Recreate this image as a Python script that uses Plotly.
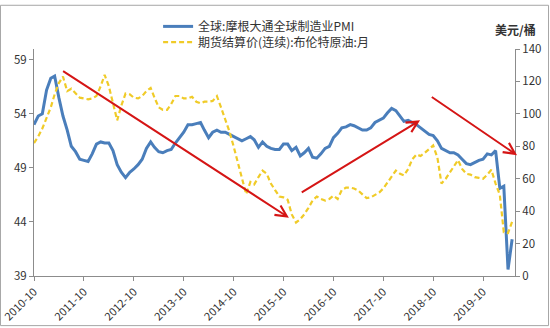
import plotly.graph_objects as go
import pandas as pd

months = pd.date_range("2010-10-01", "2020-05-01", freq="MS")

pmi = [
    53.0, 53.8, 54.0,
    56.2, 57.3, 57.5, 55.5, 53.8, 52.5, 51.0, 50.5, 49.8, 49.7, 49.6, 50.3,
    51.2, 51.4, 51.3, 51.3, 50.6, 49.3, 48.6, 48.1, 48.6, 48.9, 49.3, 49.8,
    50.8, 51.4, 50.9, 50.5, 50.4, 50.6, 50.7, 51.3, 51.8, 52.3, 53.0, 53.0,
    53.1, 53.2, 52.5, 51.8, 52.3, 52.5, 52.3, 52.3, 52.1, 51.9, 51.7, 51.5,
    51.7, 51.9, 51.6, 50.9, 51.4, 51.0, 50.8, 50.7, 50.7, 51.2, 51.2, 50.6,
    50.9, 50.1, 50.4, 50.8, 50.0, 49.9, 50.3, 50.8, 51.0, 51.8, 52.2, 52.7,
    52.8, 53.0, 52.9, 52.7, 52.5, 52.5, 52.7, 53.2, 53.4, 53.6, 54.1, 54.5,
    54.3, 53.8, 53.3, 53.4, 53.2, 53.0, 52.7, 52.4, 52.1, 52.0, 51.5, 50.8,
    50.6, 50.4, 50.4, 50.2, 49.8, 49.4, 49.3, 49.5, 49.7, 49.8, 50.3, 50.2,
    50.6, 47.1, 47.3, 39.6, 42.4,
]

brent = [
    82, 86, 91,
    97, 104, 112, 119, 123, 114, 115.5, 113, 110, 109.5, 109, 109.5,
    111, 117, 124, 117, 106, 96, 105, 112.5, 112, 110, 109.5, 111,
    114, 116, 110, 104, 102.5, 102.5, 106, 111, 111, 109.5, 109.5, 110.5,
    107.5, 106.5, 107.5, 107.5, 108, 111, 104, 97, 89, 80, 70, 59,
    50.5, 58, 56.5, 61, 65, 63, 57, 53, 49, 48.5, 47, 38,
    33, 35, 38, 42, 46.5, 49, 47.5, 46.5, 47.5, 49.5, 47.5, 53,
    54.5, 54.5, 54, 52.7, 50.5, 48, 48.5, 50, 51.5, 54, 57.5, 61,
    65, 63, 62, 66, 72, 75, 74, 76, 78.5, 80.5, 73, 57,
    60, 64, 67.5, 71.5, 66, 63, 62.5, 61, 60.5, 60, 62.5, 65.5,
    57, 50, 27, 26.5, 33.5,
]

tick_dates = pd.date_range("2010-10-01", "2019-10-01", freq="12MS")
tick_labels = [d.strftime("%Y-%m") for d in tick_dates]

# trend arrows: (tail date, tail value, head date, head value) on the oil axis
arrow_tail_x = ["2011-04-21", "2016-02-01", "2018-09-10"]
arrow_tail_y = [127, 51, 111]
arrow_head_x = ["2015-11-10", "2018-06-27", "2020-06-06"]
arrow_head_y = [36, 96, 74.5]

name_pmi = "全球:摩根大通全球制造业PMI"
name_oil = "期货结算价(连续):布伦特原油:月"

FONT = "Noto Sans CJK SC, Noto Sans, sans-serif"
AX = "#8c8c8c"

fig = go.Figure()
fig.add_trace(go.Scatter(x=months, y=pmi, name=name_pmi, mode="lines", legend="legend",
                         line=dict(color="#4A7EBB", width=3)))
fig.add_trace(go.Scatter(x=months, y=brent, name=name_oil, mode="lines", yaxis="y2",
                         legend="legend2",
                         line=dict(color="#F0CB28", width=2.2, dash="5px,3px")))

for tx, ty, hx, hy in zip(arrow_tail_x, arrow_tail_y, arrow_head_x, arrow_head_y):
    fig.add_annotation(x=hx, y=hy, ax=tx, ay=ty, xref="x", yref="y2", axref="x", ayref="y2",
                       showarrow=True, arrowhead=5, arrowsize=1.1, arrowwidth=2,
                       arrowcolor="#D51515", text="")

fig.add_annotation(text="<b>美元/桶</b>", xref="paper", yref="paper",
                   x=1.0, y=1.087, showarrow=False, xanchor="center", yanchor="middle",
                   font=dict(size=12, color="#333333", family=FONT))

fig.add_shape(type="rect", xref="paper", yref="paper",
              x0=-0.0697, x1=1.0697, y0=-0.2186, y1=1.1926,
              line=dict(color="#a6a6a6", width=1), fillcolor="rgba(0,0,0,0)")

leg_common = dict(xanchor="left", yanchor="middle", bgcolor="rgba(0,0,0,0)",
                  font=dict(size=12, color="#333333"), itemwidth=30)

fig.update_layout(
    width=550, height=328,
    margin=dict(l=34, r=35, t=45, b=52),
    paper_bgcolor="white", plot_bgcolor="white",
    font=dict(family=FONT, size=11, color="#333333"),
    showlegend=True,
    legend=dict(x=0.258, y=1.0996, **leg_common),
    legend2=dict(x=0.258, y=1.0303, **leg_common),
    xaxis=dict(range=["2010-10-01", "2020-05-22"], tickvals=tick_dates, ticktext=tick_labels,
               tickangle=-45, showgrid=False, showline=True, linecolor=AX,
               ticks="outside", ticklen=4, tickcolor=AX, zeroline=False,
               automargin=False, tickfont=dict(size=11)),
    yaxis=dict(range=[39, 60], tickvals=[39, 44, 49, 54, 59], showgrid=False,
               showline=True, linecolor=AX, ticks="outside", ticklen=4, tickcolor=AX,
               zeroline=False, automargin=False, tickfont=dict(size=11.5)),
    yaxis2=dict(range=[0, 140], tickvals=[0, 20, 40, 60, 80, 100, 120, 140],
                overlaying="y", side="right", showgrid=False, showline=True,
                linecolor=AX, ticks="outside", ticklen=4, tickcolor=AX,
                zeroline=False, automargin=False, tickfont=dict(size=11.5)),
)

fig.write_html("out.html")
